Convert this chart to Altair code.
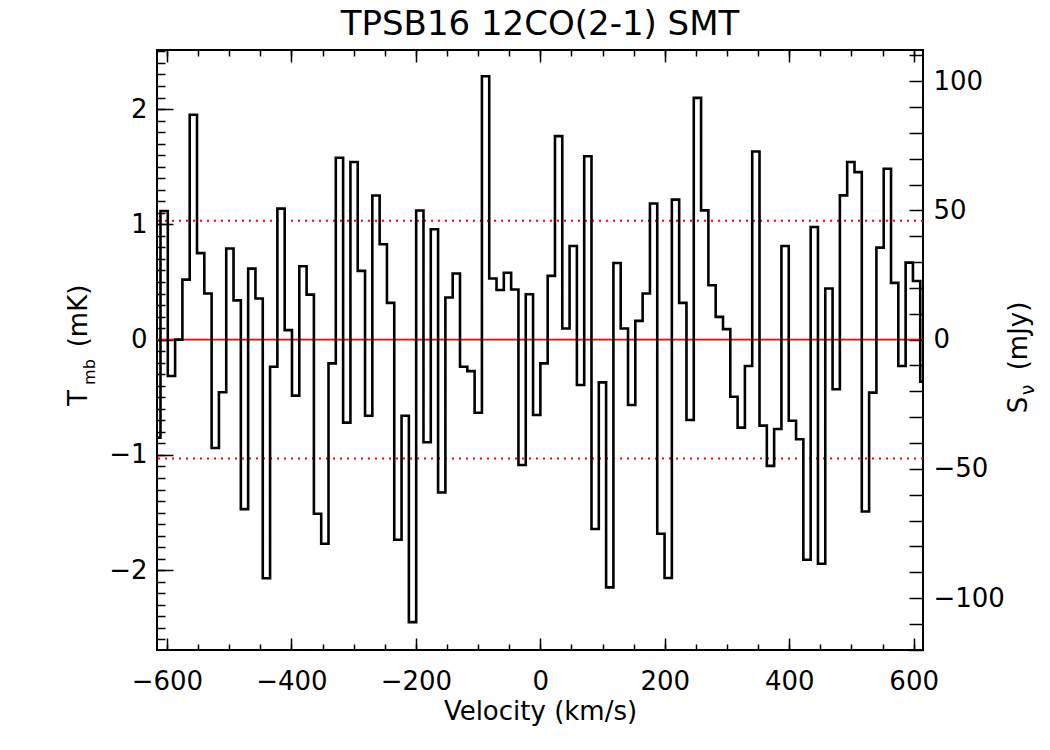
import altair as alt
import numpy as np
import pandas as pd

# ---------------- data ----------------
TITLE = "TPSB16 12CO(2-1) SMT"
X_TITLE = "Velocity (km/s)"
Y_LEFT_TITLE = ["T", "mb", "(mK)"]
Y_RIGHT_TITLE = ["S", "\u03bd", "(mJy)"]

V_FIRST_EDGE = -622.14   # left edge of first channel, km/s
DV = 11.74               # channel width, km/s

TMB = [
    -0.85, 1.115, -0.316, 0.0, 0.52, 1.95, 0.75, 0.40, -0.94, -0.457,
    0.79, 0.34, -1.47, 0.616, 0.357, -2.07, -0.235, 1.136, 0.082, -0.486,
    0.636, 0.39, -1.51, -1.77, -0.206, 1.577, -0.72, 1.54, 0.596, -0.66,
    1.25, 0.827, 0.319, -1.736, -0.66, -2.45, 1.12, -0.89, 0.957, -1.326,
    0.365, 0.573, -0.235, -0.273, -0.634, 2.284, 0.53, 0.43, 0.58, 0.435,
    -1.087, 0.394, -0.654, -0.206, 0.553, 1.765, 0.097, 0.812, -0.394, 1.59,
    -1.643, -0.371, -2.149, 0.665, 0.097, -0.567, 0.163, 0.40, 1.18, -1.684,
    -2.068, 1.214, 0.319, -0.697, 2.097, 1.121, 0.472, 0.197, 0.091, -0.495,
    -0.763, -0.229, 1.632, -0.746, -1.095, -0.775, 0.812, -0.703, -0.864, -1.909,
    0.977, -1.944, 0.443, -0.431, 1.251, 1.54, 1.453, -1.491, -0.46, 0.798,
    1.482, 0.492, -0.229, 0.668, 0.509, -0.365,
]

RMS = 1.03
MJY_PER_MK = 44.6

X_DOMAIN = [-616, 615]
T_DOMAIN = [-2.692, 2.512]
S_DOMAIN = [T_DOMAIN[0] * MJY_PER_MK, T_DOMAIN[1] * MJY_PER_MK]

X_MAJOR = [-600, -400, -200, 0, 200, 400, 600]
X_MINOR = list(range(-600, 601, 50))
T_MAJOR = [-2, -1, 0, 1, 2]
T_MINOR = [round(k * 0.1, 1) for k in range(-26, 26)]
S_MAJOR = [-100, -50, 0, 50, 100]
S_MINOR = list(range(-120, 111, 10))

# ---------------- table ----------------
n = len(TMB)
edges = V_FIRST_EDGE + DV * np.arange(n + 1)
tvals = np.array(TMB + [TMB[-1]])
df = pd.DataFrame({"v": edges, "T": tvals, "S": tvals * MJY_PER_MK})

FONT = "DejaVu Sans"
FS = 26
W, H = 766, 600

x_scale = alt.Scale(domain=X_DOMAIN, nice=False, zero=False)
t_scale = alt.Scale(domain=T_DOMAIN, nice=False, zero=False)
s_scale = alt.Scale(domain=S_DOMAIN, nice=False, zero=False)


def tick_axis(orient, values, size):
    return alt.Axis(orient=orient, values=values, ticks=True, tickSize=size,
                    tickWidth=1.5, tickColor="black", labels=False,
                    domain=False, grid=False, offset=-size, title=None)


def label_axis(orient, values, pad, title=None):
    kw = dict(orient=orient, values=values, ticks=False, tickSize=0,
              domain=False, grid=False, labelPadding=pad, labelFontSize=FS,
              labelFont=FONT, labelColor="black", labelFlush=False,
              format="d", labelOverlap=False)
    if title is not None:
        kw.update(title=title, titleFont=FONT, titleFontSize=FS,
                  titleFontWeight="normal", titleColor="black", titlePadding=4)
    else:
        kw.update(title=None)
    return alt.Axis(**kw)


base = alt.Chart(df)

rms = alt.Chart(pd.DataFrame({"T": [RMS, -RMS]})).mark_rule(
    color="#ff0000", strokeWidth=2, strokeDash=[2, 5]
).encode(y=alt.Y("T:Q", scale=t_scale, axis=None))

zero = alt.Chart(pd.DataFrame({"T": [0.0]})).mark_rule(
    color="#ff0000", strokeWidth=1.6
).encode(y=alt.Y("T:Q", scale=t_scale, axis=None))

line = base.mark_line(
    interpolate="step-after", color="black", strokeWidth=2.6, clip=True,
    strokeJoin="miter"
).encode(
    x=alt.X("v:Q", scale=x_scale, axis=label_axis("bottom", X_MAJOR, 18, X_TITLE)),
    y=alt.Y("T:Q", scale=t_scale, axis=label_axis("left", T_MAJOR, 10)),
)

ticks_a = base.mark_point(opacity=0, clip=True).encode(
    x=alt.X("v:Q", scale=x_scale, axis=tick_axis("bottom", X_MAJOR, 12)),
    y=alt.Y("T:Q", scale=t_scale, axis=tick_axis("left", T_MAJOR, 16)),
)
ticks_b = base.mark_point(opacity=0, clip=True).encode(
    x=alt.X("v:Q", scale=x_scale, axis=tick_axis("bottom", X_MINOR, 6)),
    y=alt.Y("T:Q", scale=t_scale, axis=tick_axis("left", T_MINOR, 8)),
)
ticks_c = base.mark_point(opacity=0, clip=True).encode(
    x=alt.X("v:Q", scale=x_scale, axis=tick_axis("top", X_MAJOR, 12)),
    y=alt.Y("S:Q", scale=s_scale, axis=tick_axis("right", S_MINOR, 14)),
)
ticks_d = base.mark_point(opacity=0, clip=True).encode(
    x=alt.X("v:Q", scale=x_scale, axis=tick_axis("top", X_MINOR, 6)),
    y=alt.Y("S:Q", scale=s_scale, axis=label_axis("right", S_MAJOR, 10)),
)

one = pd.DataFrame({"k": [0]})


def vtext(txt, x, y, size, angle=270):
    return alt.Chart(one).mark_text(
        text=txt, angle=angle, align="center", baseline="alphabetic",
        font=FONT, fontSize=size, color="black"
    ).encode(x=alt.value(x), y=alt.value(y))


titles = [
    vtext(TITLE, W / 2, -15, 34, angle=0),
    vtext(Y_LEFT_TITLE[0], -70, 348, FS),
    vtext(Y_LEFT_TITLE[1], -62, 322, 16),
    vtext(Y_LEFT_TITLE[2], -70, 266, FS),
    vtext(Y_RIGHT_TITLE[0], 870, 355, FS),
    vtext(Y_RIGHT_TITLE[1], 877, 340, 19),
    vtext(Y_RIGHT_TITLE[2], 870, 286, FS),
]

chart = alt.layer(
    rms, zero, line, ticks_a, ticks_b, ticks_c, ticks_d, *titles
).resolve_scale(
    x="shared", y="independent"
).resolve_axis(
    x="independent", y="independent"
).properties(
    width=W, height=H,
    background="white",
    padding={"left": 157, "top": 50, "right": 127, "bottom": 100},
    autosize=alt.AutoSizeParams(type="none"),
).configure_view(
    stroke="black", strokeWidth=2
)

chart.save("out.html", embed_options={"renderer": "svg", "actions": False})
